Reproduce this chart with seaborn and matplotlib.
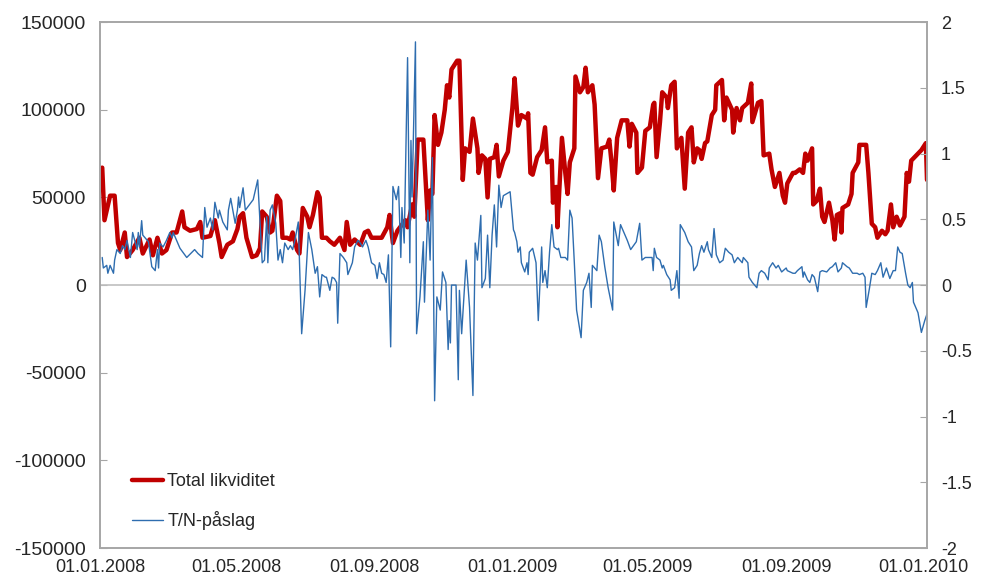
import numpy as np
import pandas as pd
import matplotlib
matplotlib.use("Agg")
import matplotlib.pyplot as plt
import matplotlib.dates as mdates
from matplotlib.ticker import FuncFormatter
import seaborn as sns

# ------------------------------------------------------------
# Data (days counted from 01.01.2008)
# ------------------------------------------------------------
start_date = "2008-01-01"

# Total likviditet, values in 1000
liq_day = [2, 4, 9, 13, 16, 18, 22, 24, 29, 35,
           38, 44, 47, 51, 55, 59, 64, 68, 73, 75,
           80, 86, 89, 91, 98, 102, 106, 108, 113, 118,
           122, 124, 127, 130, 135, 139, 142, 144, 148, 151,
           153, 157, 160, 162, 166, 169, 171, 175, 177, 180,
           184, 186, 189, 193, 195, 197, 201, 204, 208, 213,
           217, 219, 222, 226, 231, 235, 238, 241, 246, 250,
           255, 257, 260, 264, 271, 273, 277, 279, 282, 287,
           291, 293, 295, 297, 300, 303, 306, 308, 310, 312,
           317, 319, 322, 324, 328, 331, 335, 336, 339, 342,
           344, 346, 350, 352, 354, 358, 362, 366, 368, 371,
           374, 379, 380, 382, 384, 388, 392, 395, 397, 401,
           402, 405, 406, 410, 413, 415, 417, 421, 422, 426,
           429, 431, 433, 437, 439, 442, 445, 450, 452, 454,
           456, 459, 463, 468, 470, 472, 476, 477, 481, 484,
           488, 491, 492, 494, 497, 499, 503, 504, 507, 510,
           512, 516, 519, 522, 525, 527, 530, 532, 534, 537,
           539, 543, 546, 547, 552, 554, 556, 561, 562, 565,
           568, 570, 575, 578, 579, 584, 587, 589, 594, 596,
           599, 603, 606, 608, 610, 615, 617, 621, 624, 626,
           628, 632, 633, 636, 639, 641, 643, 647, 650, 652,
           654, 657, 658, 659, 664, 667, 668, 673, 674, 680,
           682, 685, 688, 690, 694, 697, 699, 702, 704, 707,
           710, 714, 716, 718, 720, 723, 729, 733, 734]
liq_value = [67, 37, 51, 51, 24, 20, 30, 16, 20, 27,
             18, 26, 17, 27, 18, 20, 30, 30, 42, 33,
             31, 32, 36, 27, 28, 37, 24, 16, 23, 25,
             32, 39, 41, 27, 16, 17, 21, 42, 39, 30,
             31, 51, 48, 27, 27, 26, 30, 20, 18, 44,
             39, 33, 40, 53, 50, 27, 27, 25, 23, 27,
             20, 36, 23, 26, 23, 30, 31, 27, 27, 27,
             33, 40, 24, 31, 37, 33, 46, 39, 83, 83,
             37, 54, 52, 97, 80, 87, 100, 114, 107, 123,
             128, 128, 60, 78, 76, 95, 78, 64, 74, 72,
             50, 72, 73, 80, 62, 71, 76, 101, 118, 91,
             97, 95, 98, 64, 63, 73, 77, 90, 70, 71,
             47, 56, 33, 84, 64, 52, 70, 78, 119, 110,
             113, 124, 110, 114, 103, 61, 78, 79, 83, 70,
             54, 84, 94, 94, 79, 92, 87, 64, 67, 88,
             90, 103, 104, 73, 93, 110, 107, 101, 114, 116,
             78, 84, 55, 87, 90, 70, 78, 77, 72, 81,
             82, 97, 100, 114, 117, 94, 107, 100, 87, 101,
             94, 101, 104, 115, 93, 104, 105, 74, 75, 66,
             56, 64, 51, 47, 58, 64, 64, 66, 64, 75,
             71, 78, 46, 48, 55, 39, 36, 47, 37, 26,
             40, 41, 30, 44, 46, 52, 64, 70, 80, 80,
             64, 35, 33, 27, 31, 29, 31, 46, 33, 39,
             34, 39, 64, 59, 71, 73, 77, 81, 60]

# T/N-påslag, right axis
tn_day = [2, 3, 6, 7, 9, 12, 13, 15, 18, 20,
          22, 24, 27, 29, 33, 34, 35, 37, 38, 42,
          43, 46, 49, 51, 52, 53, 56, 59, 62, 64,
          65, 68, 71, 77, 84, 87, 91, 93, 95, 98,
          100, 102, 105, 106, 109, 113, 114, 116, 120, 122,
          123, 124, 127, 129, 136, 140, 144, 146, 148, 149,
          151, 153, 156, 158, 160, 162, 164, 167, 169, 171,
          173, 176, 179, 182, 185, 188, 191, 193, 195, 197,
          200, 201, 204, 206, 208, 210, 211, 213, 216, 219,
          220, 224, 226, 229, 231, 233, 236, 238, 241, 244,
          246, 248, 250, 252, 254, 256, 258, 260, 263, 265,
          267, 268, 270, 273, 275, 276, 277, 280, 281, 284,
          287, 288, 291, 293, 295, 296, 297, 299, 302, 304,
          307, 309, 310, 311, 312, 316, 318, 319, 321, 325,
          328, 331, 333, 335, 338, 339, 342, 344, 346, 348,
          350, 352, 354, 356, 358, 364, 366, 367, 368, 370,
          371, 373, 374, 377, 379, 380, 381, 384, 387, 389,
          392, 393, 395, 397, 399, 401, 403, 406, 407, 409,
          413, 415, 417, 419, 421, 423, 427, 429, 432, 434,
          436, 437, 441, 443, 445, 448, 451, 455, 456, 460,
          462, 468, 471, 476, 479, 481, 484, 487, 490, 491,
          492, 494, 497, 499, 500, 503, 506, 507, 510, 512,
          514, 515, 519, 522, 525, 527, 530, 532, 534, 536,
          539, 540, 543, 545, 547, 550, 553, 555, 558, 561,
          563, 566, 570, 571, 575, 576, 579, 583, 585, 587,
          590, 593, 594, 597, 600, 602, 605, 609, 610, 615,
          617, 619, 623, 624, 625, 628, 630, 632, 634, 637,
          639, 641, 645, 648, 650, 653, 655, 658, 659, 663,
          665, 668, 672, 674, 677, 679, 680, 683, 685, 688,
          690, 693, 695, 698, 701, 704, 706, 708, 710, 712,
          715, 717, 719, 721, 722, 726, 729, 732, 734]
tn_value = [0.21, 0.13, 0.15, 0.09, 0.15, 0.09, 0.19, 0.27, 0.24, 0.30,
            0.27, 0.34, 0.21, 0.40, 0.27, 0.40, 0.29, 0.49, 0.38, 0.34,
            0.33, 0.14, 0.11, 0.27, 0.13, 0.32, 0.29, 0.34, 0.40, 0.36,
            0.40, 0.34, 0.28, 0.21, 0.27, 0.24, 0.21, 0.59, 0.44, 0.51,
            0.42, 0.63, 0.51, 0.57, 0.48, 0.42, 0.57, 0.66, 0.47, 0.57,
            0.67, 0.59, 0.74, 0.57, 0.65, 0.80, 0.17, 0.19, 0.52, 0.17,
            0.57, 0.61, 0.47, 0.19, 0.27, 0.17, 0.32, 0.27, 0.30, 0.27,
            0.34, 0.48, -0.37, -0.04, 0.40, 0.27, 0.09, 0.14, -0.09, 0.08,
            0.06, 0.06, -0.04, 0.06, 0.05, 0.02, -0.29, 0.24, 0.21, 0.17,
            0.08, 0.17, 0.29, 0.34, 0.32, 0.29, 0.34, 0.29, 0.17, 0.15,
            0.05, 0.17, 0.09, 0.08, 0.02, 0.23, -0.47, 0.75, 0.65, 0.75,
            0.21, 0.59, 0.32, 1.73, 0.17, 1.10, 0.67, 1.85, -0.37, -0.09,
            0.33, -0.13, 0.57, 0.19, 0.97, 0.02, -0.88, -0.09, -0.19, 0.10,
            0.02, -0.49, -0.27, -0.44, 0.0, 0.0, -0.72, -0.04, -0.37, 0.19,
            -0.17, -0.84, 0.32, 0.19, 0.53, -0.02, 0.05, 0.38, -0.02, 0.38,
            0.61, 0.29, 0.76, 0.59, 0.68, 0.71, 0.52, 0.42, 0.40, 0.33,
            0.25, 0.29, 0.17, 0.10, 0.17, 0.08, 0.25, 0.28, 0.17, -0.27,
            0.29, 0.02, 0.11, -0.02, 0.25, 0.46, 0.29, 0.27, 0.28, 0.21,
            0.21, 0.19, 0.57, 0.51, 0.17, -0.19, -0.40, -0.04, 0.02, 0.09,
            -0.17, 0.15, 0.11, 0.38, 0.33, 0.14, -0.02, -0.19, 0.48, 0.30,
            0.46, 0.34, 0.27, 0.33, 0.47, 0.19, 0.21, 0.21, 0.21, 0.11,
            0.28, 0.21, 0.19, 0.13, 0.15, 0.08, 0.04, -0.04, -0.02, 0.11,
            -0.10, 0.46, 0.40, 0.33, 0.29, 0.11, 0.15, 0.24, 0.30, 0.25,
            0.33, 0.27, 0.21, 0.43, 0.23, 0.17, 0.19, 0.28, 0.25, 0.23,
            0.17, 0.21, 0.17, 0.21, 0.17, 0.06, 0.02, -0.02, 0.09, 0.11,
            0.09, 0.04, 0.13, 0.17, 0.13, 0.15, 0.10, 0.13, 0.11, 0.09,
            0.09, 0.11, 0.14, 0.06, 0.10, 0.04, 0.02, 0.08, 0.06, -0.05,
            0.10, 0.11, 0.10, 0.13, 0.14, 0.17, 0.10, 0.13, 0.17, 0.14,
            0.13, 0.09, 0.09, 0.08, 0.09, 0.06, -0.17, -0.02, 0.09, 0.08,
            0.11, 0.17, 0.06, 0.13, 0.05, 0.11, 0.11, 0.29, 0.25, 0.24,
            0.09, 0.0, -0.02, 0.02, -0.13, -0.21, -0.36, -0.27, -0.22]

tick_dates = ["2008-01-01", "2008-05-01", "2008-09-01", "2009-01-01",
              "2009-05-01", "2009-09-01", "2010-01-01"]
left_ticks = [-150000, -100000, -50000, 0, 50000, 100000, 150000]
right_ticks = [-2, -1.5, -1, -0.5, 0, 0.5, 1, 1.5, 2]

# ------------------------------------------------------------
start = pd.Timestamp(start_date)
liq = pd.DataFrame({"dato": start + pd.to_timedelta(liq_day, unit="D"),
                    "verdi": np.array(liq_value) * 1000})
tn = pd.DataFrame({"dato": start + pd.to_timedelta(tn_day, unit="D"),
                   "verdi": tn_value})

sns.set_style("white")
plt.rcParams["font.family"] = ["Liberation Sans", "DejaVu Sans"]

red = "#C00000"
blue = "#2E6DAF"
grey = "#A6A6A6"

fig = plt.figure(figsize=(9.82, 5.83), dpi=100)
ax = fig.add_axes([0.1018, 0.060, 0.8422, 0.902])
ax2 = ax.twinx()

sns.lineplot(data=liq, x="dato", y="verdi", ax=ax, color=red, lw=3.2, legend=False)
sns.lineplot(data=tn, x="dato", y="verdi", ax=ax2, color=blue, lw=1.0, legend=False)
red_line = ax.lines[0]
blue_line = ax2.lines[0]
ax.axhline(0, color="#BFBFBF", lw=1.2, zorder=1)

ax.set_xlim(start, start + pd.Timedelta(days=734))
ax.set_ylim(-150000, 150000)
ax.set_yticks(left_ticks)
ax.yaxis.set_major_formatter(FuncFormatter(lambda v, p: f"{v:.0f}"))
ax2.set_ylim(-2, 2)
ax2.set_yticks(right_ticks)
ax2.yaxis.set_major_formatter(FuncFormatter(lambda v, p: f"{v:g}"))
ax.set_xticks(pd.to_datetime(tick_dates))
ax.xaxis.set_major_formatter(mdates.DateFormatter("%d.%m.%Y"))

for a in (ax, ax2):
    a.set_xlabel("")
    a.set_ylabel("")
    for s in a.spines.values():
        s.set_color(grey)
        s.set_linewidth(1.2)
ax.tick_params(axis="y", direction="in", length=5, color=grey, labelsize=14, pad=10)
ax.tick_params(axis="x", direction="in", length=5, color=grey, labelsize=13, pad=8)
ax2.tick_params(axis="y", direction="in", length=5, color=grey, labelsize=13, pad=10)

ax2.legend([red_line, blue_line], ["Total likviditet", "T/N-påslag"],
           loc="center left", bbox_to_anchor=(0.019, 0.088), frameon=False,
           fontsize=13, handlelength=1.7, handletextpad=0.25, labelspacing=1.15)

plt.savefig("out.png", dpi=100)
